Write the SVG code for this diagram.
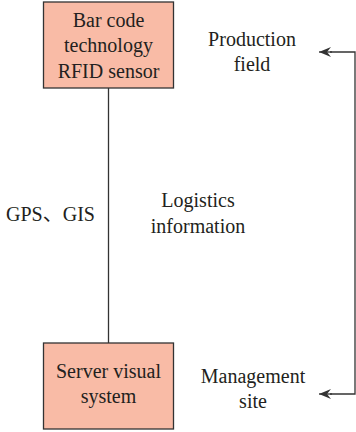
<svg xmlns="http://www.w3.org/2000/svg" width="356" height="432" viewBox="0 0 356 432" xml:lang="en">
  <style>
    .box { fill: #F9BBA6; stroke: #333; stroke-width: 1.3; }
    .wire { fill: none; stroke: #333; stroke-width: 1.3; }
  </style>
  <defs>
    <!-- barbed arrowhead shared by both feedback arrows -->
    <marker id="arrow" viewBox="0 0 12 10" refX="12" refY="5" markerWidth="12" markerHeight="10" markerUnits="userSpaceOnUse" orient="auto">
      <path d="M0,0 L12,5 L0,10 L4,5 Z" fill="#333"/>
    </marker>
  </defs>

  <g id="connectors">
    <line class="wire" x1="108.5" y1="88" x2="108.5" y2="343"/>
    <path class="wire" d="M330,52 H355 V394 H330"/>
    <line class="wire" x1="332" y1="52" x2="319" y2="52" marker-end="url(#arrow)"/>
    <line class="wire" x1="332" y1="394" x2="319" y2="394" marker-end="url(#arrow)"/>
  </g>

  <g id="sensor-node">
    <rect class="box" x="43.5" y="2" width="130" height="86"/>
    <text x="108.5" y="27" font-family="Liberation Serif" font-size="20" text-anchor="middle" fill="#231F20">Bar code</text>
    <text x="108.5" y="52" font-family="Liberation Serif" font-size="20" text-anchor="middle" fill="#231F20">technology</text>
    <text x="108.5" y="78" font-family="Liberation Serif" font-size="20" text-anchor="middle" fill="#231F20">RFID sensor</text>
  </g>

  <g id="server-node">
    <rect class="box" x="43.5" y="343" width="130" height="86"/>
    <text x="108.5" y="378" font-family="Liberation Serif" font-size="20" text-anchor="middle" fill="#231F20">Server visual</text>
    <text x="108.5" y="403" font-family="Liberation Serif" font-size="20" text-anchor="middle" fill="#231F20">system</text>
  </g>

  <g id="production-field">
    <text x="252" y="46" font-family="Liberation Serif" font-size="20" text-anchor="middle" fill="#231F20">Production</text>
    <text x="252" y="71" font-family="Liberation Serif" font-size="20" text-anchor="middle" fill="#231F20">field</text>
  </g>

  <g id="gps-gis">
    <text x="50.5" y="221" font-family="Liberation Serif" font-size="20" text-anchor="middle" fill="#231F20">GPS<tspan font-family="Noto Sans CJK SC" xml:lang="zh">、</tspan>GIS</text>
  </g>

  <g id="logistics-information">
    <text x="198" y="207" font-family="Liberation Serif" font-size="20" text-anchor="middle" fill="#231F20">Logistics</text>
    <text x="198" y="233" font-family="Liberation Serif" font-size="20" text-anchor="middle" fill="#231F20">information</text>
  </g>

  <g id="management-site">
    <text x="253" y="383" font-family="Liberation Serif" font-size="20" text-anchor="middle" fill="#231F20">Management</text>
    <text x="253" y="408" font-family="Liberation Serif" font-size="20" text-anchor="middle" fill="#231F20">site</text>
  </g>
</svg>
